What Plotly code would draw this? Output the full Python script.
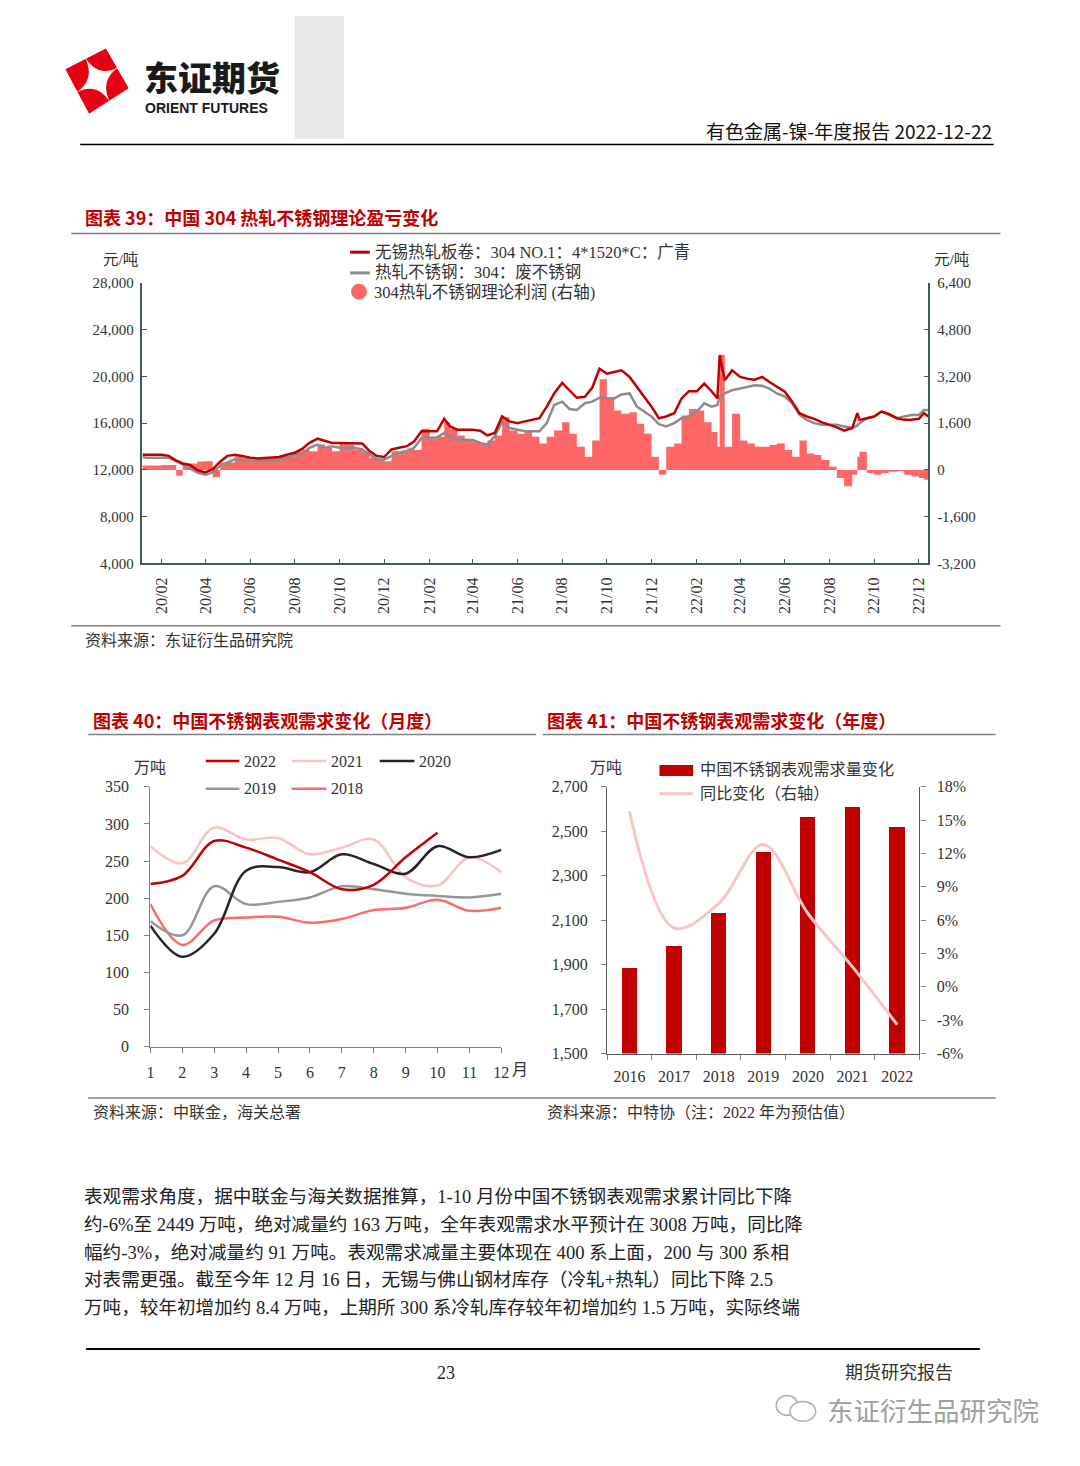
import plotly.graph_objects as go

OFF = 8                      # default body margin of the html page
W, H = 1048, 1438            # figure leaves some slack inside the 1080x1466 window
def X(px): return (px - OFF) / W
def Y(py): return 1 - (py - OFF) / H

SERIF = "Liberation Serif, Noto Sans CJK SC"
SANS = "Noto Sans CJK SC"

# ---------------- Chart 39 data ----------------
dates39 = ["2020-01-06","2020-01-11","2020-01-21","2020-02-01","2020-02-11","2020-02-21",
           "2020-03-01","2020-03-11","2020-03-21","2020-04-01","2020-04-11","2020-04-21",
           "2020-05-01","2020-05-11","2020-05-21","2020-06-01","2020-06-11","2020-06-21",
           "2020-07-01","2020-07-11","2020-07-21","2020-08-01","2020-08-11","2020-08-21",
           "2020-09-01","2020-09-11","2020-09-21","2020-10-01","2020-10-11","2020-10-21",
           "2020-11-01","2020-11-11","2020-11-21","2020-12-01","2020-12-11","2020-12-21",
           "2021-01-01","2021-01-11","2021-01-21","2021-02-01","2021-02-11","2021-02-21",
           "2021-03-01","2021-03-11","2021-03-21","2021-04-01","2021-04-11","2021-04-21",
           "2021-05-01","2021-05-11","2021-05-21","2021-06-01","2021-06-11","2021-06-21",
           "2021-07-01","2021-07-11","2021-07-21","2021-08-01","2021-08-11","2021-08-21",
           "2021-09-01","2021-09-11","2021-09-21","2021-10-01","2021-10-11","2021-10-21",
           "2021-11-01","2021-11-11","2021-11-21","2021-12-01","2021-12-11","2021-12-21",
           "2022-01-01","2022-01-11","2022-01-21","2022-02-01","2022-02-11","2022-02-21",
           "2022-03-01","2022-03-04","2022-03-11","2022-03-21","2022-04-01","2022-04-11",
           "2022-04-21","2022-05-01","2022-05-11","2022-05-21","2022-06-01","2022-06-11",
           "2022-06-21","2022-07-01","2022-07-11","2022-07-21","2022-08-01","2022-08-11",
           "2022-08-21","2022-09-01","2022-09-08","2022-09-11","2022-09-21","2022-10-01",
           "2022-10-11","2022-10-21","2022-11-01","2022-11-11","2022-11-21","2022-12-01",
           "2022-12-08","2022-12-14"]
wuxi_hr_304 = [13300,13300,13300,13300,13200,12800,
               12550,12420,11970,11780,12060,12700,
               13200,13300,13190,13040,12980,13040,
               13040,13100,13300,13470,13800,14310,
               14670,14500,14310,14310,14310,14310,
               14250,13610,13190,13100,13750,13890,
               14030,14450,15300,15300,15300,16370,
               15720,15440,15440,15440,15350,14960,
               15160,16570,16150,16000,16150,16280,
               16420,17410,18540,19440,18820,18170,
               18250,19020,20650,20230,20370,20510,
               19950,19100,18260,17410,16420,16570,
               16850,18110,18730,18730,19380,18730,
               18110,21800,19660,20510,19950,19800,
               19720,19950,19520,19100,18680,17840,
               16850,16570,16370,16080,15860,15640,
               15350,15580,16850,16280,16420,16570,
               16990,16780,16420,16280,16280,16370,
               16850,16570]
scrap_304 = [13100,13040,13040,13040,13040,12760,
             12450,12140,11780,11580,11780,12340,
             12620,12900,12800,12760,12800,12800,
             12800,12850,13040,13270,13380,13890,
             14170,13890,14030,13890,13890,13890,
             13750,13330,12900,12900,13190,13470,
             13610,13890,14730,14730,14780,15160,
             14870,14590,14590,14550,14310,14170,
             14870,16100,15580,15440,15300,15300,
             15300,16000,17550,17840,17210,17130,
             17700,17840,18170,18110,18110,18450,
             18540,17410,16990,16570,15920,15720,
             16000,16420,16570,16990,17690,17410,
             17550,18300,18540,18820,18960,19100,
             19240,19190,18960,18540,18260,17690,
             16700,16280,16000,15860,15860,15860,
             15720,15580,15800,16000,16420,16570,
             16990,16700,16420,16570,16700,16700,
             17130,17130]
profit_304 = [150,150,150,170,170,-200,
              200,220,290,300,-250,250,
              250,470,420,360,420,400,
              420,500,470,640,700,640,
              870,750,640,920,870,700,
              640,420,360,300,640,600,
              730,680,1410,1130,1130,1630,
              1410,1180,1010,960,900,1010,
              1180,1800,1350,1240,1300,1130,
              900,1130,1350,1630,1240,790,
              450,1010,3100,2480,2030,1920,
              1970,1580,1240,450,-170,790,
              900,1860,2080,2030,1630,1300,
              790,3940,790,1920,1010,900,
              790,790,850,900,680,450,
              1010,560,510,340,110,-280,
              -560,-170,450,620,-110,-170,
              -110,-60,-50,-170,-225,-280,
              -340,-400]
x39_tickvals = ["2020-02-01","2020-04-01","2020-06-01","2020-08-01","2020-10-01","2020-12-01",
                "2021-02-01","2021-04-01","2021-06-01","2021-08-01","2021-10-01","2021-12-01",
                "2022-02-01","2022-04-01","2022-06-01","2022-08-01","2022-10-01","2022-12-01"]
x39_ticktext = ["20/02","20/04","20/06","20/08","20/10","20/12",
                "21/02","21/04","21/06","21/08","21/10","21/12",
                "22/02","22/04","22/06","22/08","22/10","22/12"]
left39_tickvals = [4000, 8000, 12000, 16000, 20000, 24000, 28000]
right39_tickvals = [-3200, -1600, 0, 1600, 3200, 4800, 6400]
right39_ticktext = ["-3,200", "-1,600", "0", "1,600", "3,200", "4,800", "6,400"]

# ---------------- Chart 40 data ----------------
months = [1, 2, 3, 4, 5, 6, 7, 8, 9, 10, 11, 12]
month_labels = ["1", "2", "3", "4", "5", "6", "7", "8", "9", "10", "11", "12"]
demand_2022 = [219, 230, 277, 268, 252, 235, 212, 218, 255, 288]
demand_2021 = [270, 247, 295, 279, 281, 259, 268, 279, 228, 217, 255, 235]
demand_2020 = [163, 121, 152, 237, 242, 235, 259, 246, 233, 270, 255, 265]
demand_2019 = [169, 150, 216, 192, 195, 201, 216, 212, 206, 203, 201, 206]
demand_2018 = [192, 137, 170, 174, 175, 167, 172, 184, 187, 198, 183, 187]

# ---------------- Chart 41 data ----------------
years = ["2016", "2017", "2018", "2019", "2020", "2021", "2022"]
annual_demand = [1886, 1986, 2134, 2407, 2565, 2612, 2522]
yoy_change = [15.8, 5.3, 7.5, 12.8, 6.6, 1.8, -3.4]
left41_tickvals = [1500, 1700, 1900, 2100, 2300, 2500, 2700]
right41_tickvals = [-6, -3, 0, 3, 6, 9, 12, 15, 18]
right41_ticktext = ["-6%", "-3%", "0%", "3%", "6%", "9%", "12%", "15%", "18%"]

# ---------------- colours ----------------
RED = "#C00000"
GRAY = "#8C8C8C"
SALMON = "#FF6666"
AX39 = "#3F5B5B"
AXG = "#808080"
C2022, C2021, C2020, C2019, C2018 = "#C00000", "#F8C4C4", "#262626", "#969696", "#FF6A6A"
PINKLINE = "#F9C6C6"

fig = go.Figure()

# Chart 39
fig.add_trace(go.Scatter(x=dates39, y=profit_304, xaxis="x", yaxis="y", mode="lines",
                         line=dict(width=0, shape="hv", color=SALMON), fill="tozeroy",
                         fillcolor=SALMON, hoverinfo="skip"))
fig.add_trace(go.Scatter(x=dates39, y=scrap_304, xaxis="x", yaxis="y2", mode="lines",
                         line=dict(color=GRAY, width=2.5)))
fig.add_trace(go.Scatter(x=dates39, y=wuxi_hr_304, xaxis="x", yaxis="y2", mode="lines",
                         line=dict(color=RED, width=2.5)))

# Chart 40
for ys, col in [(demand_2018, C2018), (demand_2019, C2019), (demand_2021, C2021),
                (demand_2020, C2020), (demand_2022, C2022)]:
    fig.add_trace(go.Scatter(x=months[:len(ys)], y=ys, xaxis="x2", yaxis="y3", mode="lines",
                             line=dict(color=col, width=2.5, shape="spline", smoothing=1.0)))

# Chart 41
fig.add_trace(go.Bar(x=years, y=annual_demand, xaxis="x3", yaxis="y4",
                     marker=dict(color=RED, line=dict(width=0)), width=0.34))
fig.add_trace(go.Scatter(x=years, y=yoy_change, xaxis="x3", yaxis="y5", mode="lines",
                         line=dict(color=PINKLINE, width=3, shape="spline", smoothing=1.0)))

tick_font = dict(family=SERIF, size=15, color="#333333")
tick_font16 = dict(family=SERIF, size=16, color="#333333")

fig.update_layout(
    width=W, height=H, autosize=False, showlegend=False,
    margin=dict(l=0, r=0, t=0, b=0), paper_bgcolor="white", plot_bgcolor="rgba(0,0,0,0)",
    bargap=0,
    xaxis=dict(domain=[X(140), X(935)], anchor="y", type="date",
               range=["2020-01-06", "2022-12-14"], tickvals=x39_tickvals, ticktext=x39_ticktext,
               tickangle=-90, ticks="inside", ticklen=5, tickcolor=AX39, tickwidth=1,
               showline=True, linecolor=AX39, linewidth=1.5, showgrid=False, zeroline=False,
               tickfont=dict(family=SERIF, size=16, color="#333333"), ticklabelstandoff=6),
    yaxis=dict(domain=[Y(562), Y(278)], anchor="x", side="right", range=[-3200, 6400],
               tickvals=right39_tickvals, ticktext=right39_ticktext, ticks="inside", ticklen=5,
               tickcolor=AX39, showline=True, linecolor=AX39, linewidth=1.5, showgrid=False,
               zeroline=False, tickfont=tick_font, ticklabelstandoff=4),
    yaxis2=dict(overlaying="y", anchor="x", side="left", range=[4000, 28000],
                tickvals=left39_tickvals, tickformat=",", ticks="inside", ticklen=5,
                tickcolor=AX39, showline=True, linecolor=AX39, linewidth=1.5, showgrid=False,
                zeroline=False, tickfont=tick_font, ticklabelstandoff=4),
    xaxis2=dict(domain=[X(148), X(503)], anchor="y3", range=[1, 12], tickvals=months,
                ticktext=month_labels, ticks="outside", ticklen=5, tickcolor=AXG,
                showline=True, linecolor=AXG, linewidth=1.2, showgrid=False, zeroline=False,
                tickfont=tick_font16, ticklabelstandoff=6),
    yaxis3=dict(domain=[Y(1051), Y(788)], anchor="x2", range=[0, 350], dtick=50,
                ticks="outside", ticklen=5, tickcolor=AXG, showline=True, linecolor=AXG,
                linewidth=1.2, showgrid=False, zeroline=False,
                tickfont=tick_font16, ticklabelstandoff=12),
    xaxis3=dict(domain=[X(610), X(926)], anchor="y4", type="category", range=[-0.5, 6.5],
                tickson="boundaries", ticks="outside", ticklen=5, tickcolor=AXG,
                showline=True, linecolor="#595959", linewidth=1.2, showgrid=False,
                zeroline=False, tickfont=tick_font16, ticklabelstandoff=8),
    yaxis4=dict(domain=[Y(1058), Y(788)], anchor="x3", range=[1500, 2700],
                tickvals=left41_tickvals, tickformat=",", ticks="outside", ticklen=5,
                tickcolor=AXG, showline=True, linecolor="#595959", linewidth=1.2,
                showgrid=False, zeroline=False, tickfont=tick_font16, ticklabelstandoff=10),
    yaxis5=dict(overlaying="y4", anchor="x3", side="right", range=[-6, 18],
                tickvals=right41_tickvals, ticktext=right41_ticktext, ticks="outside",
                ticklen=5, tickcolor=AXG, showline=True, linecolor="#595959", linewidth=1.2,
                showgrid=False, zeroline=False, tickfont=tick_font16, ticklabelstandoff=8),
)

shapes = []
def hline(x0, x1, y, color="#808080", width=1.5):
    shapes.append(dict(type="line", xref="paper", yref="paper", x0=X(x0), x1=X(x1),
                       y0=Y(y), y1=Y(y), line=dict(color=color, width=width)))
def rect(x0, y0, x1, y1, color, layer="below"):
    shapes.append(dict(type="rect", xref="paper", yref="paper", x0=X(x0), x1=X(x1),
                       y0=Y(y1), y1=Y(y0), fillcolor=color, line=dict(width=0), layer=layer))
def path(points, color, curve_center=None):
    if curve_center is None:
        s = "M " + " L ".join(f"{X(a):.5f},{Y(b):.5f}" for a, b in points) + " Z"
    else:
        cx, cy = curve_center
        s = f"M {X(points[0][0]):.5f},{Y(points[0][1]):.5f}"
        for a, b in points[1:] + points[:1]:
            s += f" Q {X(cx):.5f},{Y(cy):.5f} {X(a):.5f},{Y(b):.5f}"
        s += " Z"
    shapes.append(dict(type="path", xref="paper", yref="paper", path=s, fillcolor=color,
                       line=dict(width=0)))

# header
rect(294, 8, 344, 132, "#E8E8E8")
hline(77, 1001, 138, "#000000", 1.5)
# logo
path([(103, 41), (126, 81), (86, 107), (62, 62)], "#E60012")
path([(80.7, 47.8), (117.9, 58.6), (108.3, 97.6), (71.1, 86.8)], "white",
     curve_center=(94.5, 72.7))

# chart 39 frame lines
hline(68, 1008, 228, "#7F7F7F", 1.5)
hline(68, 1008, 625, "#7F7F7F", 1.5)
# chart 39 legend
hline(350, 370, 247, RED, 3)
hline(350, 370, 268, GRAY, 3)
shapes.append(dict(type="circle", xref="paper", yref="paper", x0=X(351), x1=X(367),
                   y0=Y(295), y1=Y(279), fillcolor=SALMON, line=dict(width=0)))

# chart 40/41 frame lines
hline(85, 538, 735, "#7F7F7F", 1.5)
hline(545, 1003, 735, "#7F7F7F", 1.5)
hline(85, 1003, 1103, "#7F7F7F", 1.5)
# chart 40 legend
hline(204, 238, 762, C2022, 2.5)
hline(291, 326, 762, C2021, 2.5)
hline(380, 415, 762, C2020, 2.5)
hline(204, 238, 790, C2019, 2.5)
hline(291, 326, 790, C2018, 2.5)
# chart 41 legend
rect(663, 766, 697, 777, RED, layer="above")
hline(663, 697, 795, PINKLINE, 3)

# footer
hline(83, 987, 1357, "#000000", 2)
shapes.append(dict(type="circle", xref="paper", yref="paper", x0=X(781), x1=X(803),
                   y0=Y(1424), y1=Y(1404), line=dict(color="#B0B0B0", width=1.5)))
shapes.append(dict(type="circle", xref="paper", yref="paper", x0=X(795), x1=X(821),
                   y0=Y(1430), y1=Y(1410), fillcolor="white", line=dict(color="#B0B0B0", width=1.5)))

fig.update_layout(shapes=shapes)

ann = []
def text(x, y, s, size=15, color="#333333", family=SERIF, anchor="left", weight="normal"):
    ann.append(dict(x=X(x), y=Y(y), xref="paper", yref="paper", text=s, showarrow=False,
                    xanchor=anchor, yanchor="middle",
                    font=dict(family=family, size=size, color=color, weight=weight)))

# header texts
text(139, 69, "东证期货", size=34, color="#1A1A1A", family=SANS, weight=900)
text(141, 101, "ORIENT FUTURES", size=14, color="#1A1A1A", family="Liberation Sans, Arial", weight="bold")
text(1001, 124, "有色金属-镍-年度报告 2022-12-22", size=19, color="#111111", family=SANS, anchor="right")

# chart 39 texts
text(80, 211, "图表 39：中国 304 热轧不锈钢理论盈亏变化", size=18, color=RED, family=SANS, weight="bold")
text(373, 247, "无锡热轧板卷：304 NO.1：4*1520*C：广青", size=16.5)
text(373, 268, "热轧不锈钢：304：废不锈钢", size=16.5)
text(372, 288, "304热轧不锈钢理论利润 (右轴)", size=16.5)
text(118, 254, "元/吨", size=15.5, anchor="center")
text(958, 254, "元/吨", size=15.5, anchor="center")
text(80, 640, "资料来源：东证衍生品研究院", size=16)

# chart 40 texts
text(88, 720, "图表 40：中国不锈钢表观需求变化（月度）", size=18, color=RED, family=SANS, weight="bold")
text(148, 768, "万吨", size=16, anchor="center")
text(241, 762, "2022", size=16)
text(329, 762, "2021", size=16)
text(418, 762, "2020", size=16)
text(241, 790, "2019", size=16)
text(329, 790, "2018", size=16)
text(512, 1074, "月", size=16)
text(88, 1118, "资料来源：中联金，海关总署", size=16)

# chart 41 texts
text(547, 720, "图表 41：中国不锈钢表观需求变化（年度）", size=18, color=RED, family=SANS, weight="bold")
text(609, 768, "万吨", size=16, anchor="center")
text(702, 771, "中国不锈钢表观需求量变化", size=16.2)
text(702, 795, "同比变化（右轴）", size=16.2)
text(547, 1118, "资料来源：中特协（注：2022 年为预估值）", size=16)

# paragraph
para = [
    "表观需求角度，据中联金与海关数据推算，1-10 月份中国不锈钢表观需求累计同比下降",
    "约-6%至 2449 万吨，绝对减量约 163 万吨，全年表观需求水平预计在 3008 万吨，同比降",
    "幅约-3%，绝对减量约 91 万吨。表观需求减量主要体现在 400 系上面，200 与 300 系相",
    "对表需更强。截至今年 12 月 16 日，无锡与佛山钢材库存（冷轧+热轧）同比下降 2.5",
    "万吨，较年初增加约 8.4 万吨，上期所 300 系冷轧库存较年初增加约 1.5 万吨，实际终端",
]
for i, line in enumerate(para):
    text(79, 1203 + 28 * i, line, size=18.6, color="#222222")

# footer texts
text(447, 1381, "23", size=18, color="#222222", anchor="center")
text(905, 1381, "期货研究报告", size=18, color="#333333", anchor="center")
text(830, 1418, "东证衍生品研究院", size=26.5, color="#A0A0A0", family=SANS)

fig.update_layout(annotations=ann)

fig.write_html("out.html", config={"displayModeBar": False})
